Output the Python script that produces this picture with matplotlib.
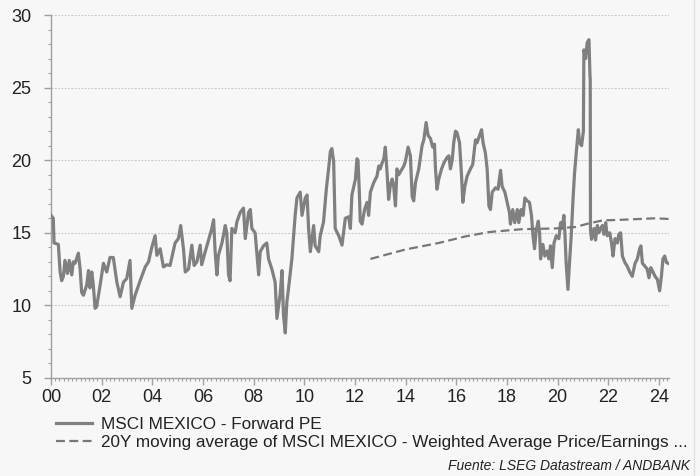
import matplotlib
matplotlib.use("Agg")
import matplotlib.pyplot as plt
from matplotlib.ticker import MultipleLocator, FixedLocator
from matplotlib.lines import Line2D

plt.rcParams['font.family'] = ['Liberation Sans', 'DejaVu Sans']

# ---- data (decimal years since 2000) ----
pe_years = [0.00, 0.09, 0.12, 0.29, 0.36, 0.42, 0.49, 0.55, 0.65, 0.72, 0.82, 0.88, 0.95,
            1.08, 1.15, 1.21, 1.28, 1.41, 1.48, 1.54, 1.61, 1.67, 1.74, 1.80, 1.94,
            2.07, 2.20, 2.33, 2.46, 2.60, 2.73, 2.86, 2.99, 3.12, 3.19, 3.32, 3.52,
            3.72, 3.85, 3.98, 4.11, 4.18, 4.31, 4.44, 4.57, 4.70, 4.90, 5.03, 5.12,
            5.23, 5.30, 5.43, 5.56, 5.65, 5.76, 5.89, 5.95, 6.09, 6.22, 6.35, 6.42,
            6.48, 6.55, 6.61, 6.75, 6.88, 6.94, 7.01, 7.07, 7.14, 7.27, 7.34, 7.47,
            7.60, 7.67, 7.80, 7.87, 7.93, 8.06, 8.20, 8.26, 8.39, 8.52, 8.59, 8.72,
            8.85, 8.92, 9.05, 9.12, 9.18, 9.25, 9.31, 9.38, 9.51, 9.64, 9.71, 9.84,
            9.91, 10.04, 10.11, 10.17, 10.24, 10.37, 10.43, 10.57, 10.63, 10.76, 10.87,
            10.96, 11.03, 11.09, 11.16, 11.22, 11.36, 11.49, 11.62, 11.75, 11.82, 11.88,
            12.02, 12.08, 12.12, 12.17, 12.21, 12.28, 12.38, 12.48, 12.54, 12.61, 12.74,
            12.87, 12.94, 13.00, 13.07, 13.14, 13.20, 13.27, 13.33, 13.40, 13.47, 13.53,
            13.60, 13.66, 13.73, 13.86, 13.93, 13.99, 14.10, 14.19, 14.26, 14.32, 14.39,
            14.52, 14.65, 14.72, 14.81, 14.89, 14.98, 15.07, 15.14, 15.18, 15.24, 15.31,
            15.42, 15.51, 15.64, 15.71, 15.77, 15.84, 15.90, 15.97, 16.03, 16.13, 16.21,
            16.26, 16.34, 16.43, 16.56, 16.65, 16.76, 16.82, 16.92, 17.00, 17.06, 17.15,
            17.22, 17.29, 17.35, 17.42, 17.55, 17.65, 17.75, 17.81, 17.92, 18.01, 18.10,
            18.14, 18.23, 18.31, 18.41, 18.47, 18.56, 18.64, 18.71, 18.80, 18.89, 18.97,
            19.03, 19.09, 19.16, 19.24, 19.29, 19.33, 19.42, 19.50, 19.59, 19.66, 19.72,
            19.79, 19.86, 19.95, 20.05, 20.12, 20.18, 20.25, 20.29, 20.34, 20.41, 20.47,
            20.54, 20.61, 20.67, 20.75, 20.82, 20.87, 20.95, 21.00, 21.02, 21.04, 21.11,
            21.17, 21.24, 21.28, 21.29, 21.30, 21.34, 21.44, 21.50, 21.57, 21.63, 21.70,
            21.77, 21.83, 21.90, 21.96, 22.06, 22.13, 22.19, 22.27, 22.36, 22.42, 22.49,
            22.56, 22.66, 22.75, 22.85, 22.95, 23.06, 23.15, 23.24, 23.29, 23.35, 23.45,
            23.54, 23.61, 23.68, 23.77, 23.85, 23.94, 24.03, 24.10, 24.16, 24.23, 24.30,
            24.36]
pe_values = [16.2, 16.0, 14.3, 14.2, 12.3, 11.7, 12.0, 13.1, 12.2, 13.1, 12.1, 13.0, 12.9,
             13.6, 12.5, 10.9, 10.7, 11.4, 12.4, 11.2, 12.3, 11.4, 9.8, 9.9, 11.4,
             12.9, 12.3, 13.3, 13.3, 11.6, 10.6, 11.6, 11.85, 13.1, 9.8, 10.7, 11.7,
             12.65, 13.0, 14.0, 14.8, 13.45, 13.9, 12.65, 12.8, 12.75, 14.3, 14.6, 15.5,
             13.9, 12.3, 12.5, 14.15, 12.75, 13.0, 14.15, 12.8, 13.7, 14.5, 15.3, 15.9,
             13.7, 12.1, 13.45, 14.3, 15.5, 15.0, 12.1, 11.7, 15.3, 15.0, 15.75, 16.4,
             16.7, 14.6, 16.4, 16.6, 15.3, 15.0, 12.1, 13.7, 14.1, 14.3, 13.2, 12.5,
             11.6, 9.1, 10.8, 12.4, 9.3, 8.1, 10.2, 11.2, 13.2, 16.2, 17.4, 17.8,
             16.2, 17.4, 17.6, 15.3, 13.7, 15.5, 14.1, 13.7, 14.8, 15.75, 18.0,
             19.4, 20.6, 20.8, 19.9, 15.3, 14.8, 14.15, 16.0, 16.1, 15.3, 17.6,
             18.7, 20.1, 20.0, 18.0, 15.8, 15.6, 16.6, 17.1, 16.2, 17.8, 18.45,
             18.9, 19.6, 19.4, 19.8, 20.1, 20.9, 19.1, 17.3, 18.3, 18.7, 18.2,
             16.85, 19.4, 19.0, 19.4, 19.6, 19.9, 20.9, 20.3, 17.5, 17.2, 18.45,
             19.4, 21.0, 21.4, 22.6, 21.7, 21.5, 20.9, 21.1, 19.4, 18.0, 18.7,
             19.4, 19.8, 20.2, 20.3, 19.4, 20.0, 21.2, 22.0, 21.9, 21.2, 18.9,
             17.1, 18.2, 18.9, 19.4, 19.7, 21.4, 21.2, 21.7, 22.1, 21.2, 20.5,
             19.4, 16.85, 16.6, 17.8, 18.1, 18.0, 19.3, 18.2, 17.8, 17.1, 16.4,
             15.6, 16.6, 15.7, 16.6, 15.7, 16.6, 16.2, 17.4, 17.2, 17.1, 16.2,
             14.8, 13.9, 15.2, 15.8, 15.0, 13.2, 14.2, 13.4, 13.75, 13.2, 14.1,
             12.6, 14.3, 14.8, 14.6, 15.7, 15.3, 16.2, 15.0, 12.9, 11.1, 12.9,
             14.8, 17.3, 19.1, 20.75, 22.1, 21.2, 21.0, 21.7, 22.0, 27.6, 27.0,
             28.1, 28.3, 25.8, 25.6, 15.2, 14.55, 15.3, 14.5, 15.5, 15.0, 15.3,
             15.5, 14.9, 15.7, 14.8, 15.0, 14.3, 13.4, 14.6, 14.3, 14.9, 15.0,
             13.4, 12.95, 12.7, 12.3, 12.0, 12.9, 13.2, 13.9, 14.1, 12.9, 12.7,
             12.5, 11.9, 12.6, 12.3, 12.0, 11.8, 11.0, 12.0, 13.2, 13.4, 12.95,
             12.9]

avg_years = [12.61, 13.99, 15.31, 16.36, 17.29, 18.60, 19.92, 20.71, 21.24, 21.77, 22.56, 23.87, 24.40]
avg_values = [13.2, 13.85, 14.3, 14.75, 15.05, 15.25, 15.3, 15.4, 15.65, 15.85, 15.9, 16.0, 15.95]

x_tick_years = list(range(0, 25, 2))
x_tick_labels = ['00', '02', '04', '06', '08', '10', '12', '14', '16', '18', '20', '22', '24']
y_ticks = [5, 10, 15, 20, 25, 30]

label_pe = 'MSCI MEXICO - Forward PE'
label_avg = '20Y moving average of MSCI MEXICO - Weighted Average Price/Earnings ...'
source = 'Fuente: LSEG Datastream / ANDBANK'

# ---- figure ----
W, H = 700, 476
bg = '#f7f7f7'
fig = plt.figure(figsize=(W / 100, H / 100), dpi=100, facecolor=bg)
ax = fig.add_axes([51 / W, 1 - 378 / H, 618 / W, 363 / H], facecolor=bg)

ln1, = ax.plot(pe_years, pe_values, color='#808080', lw=2.3, solid_joinstyle='round', zorder=3)
ln2, = ax.plot(avg_years, avg_values, color='#777777', lw=1.6, dashes=(4, 2), zorder=3)

ax.set_xlim(0, 24.4)
ax.set_ylim(5, 30)
ax.xaxis.set_major_locator(FixedLocator(x_tick_years))
ax.set_xticklabels(x_tick_labels)
ax.xaxis.set_minor_locator(MultipleLocator(1 / 6))
ax.yaxis.set_major_locator(FixedLocator(y_ticks))
ax.yaxis.set_minor_locator(MultipleLocator(1))

for s in ['top', 'right']:
    ax.spines[s].set_visible(False)
for s in ['left', 'bottom']:
    ax.spines[s].set_color('#a0a0a0')
    ax.spines[s].set_linewidth(1.0)

ax.tick_params(axis='both', which='major', length=5, width=1, color='#a0a0a0',
               labelsize=13, labelcolor='#222222')
ax.tick_params(axis='both', which='minor', length=2.5, width=0.8, color='#a0a0a0')
ax.tick_params(axis='y', which='major', pad=9)
ax.tick_params(axis='x', which='major', pad=3)
for lbl in ax.get_xticklabels():
    lbl.set_x(lbl.get_position()[0])

for yv in y_ticks[1:]:
    ax.axhline(yv, color='#c4c4c4', lw=0.8, ls=(0, (1.5, 1.5)), zorder=1)

leg = fig.legend([ln1, ln2], [label_pe, label_avg], loc='upper left',
                 bbox_to_anchor=(56 / W, 1 - 417 / H), frameon=False,
                 fontsize=12.3, handlelength=2.1, handletextpad=0.55,
                 labelspacing=0.15, borderpad=0, borderaxespad=0)
for t in leg.get_texts():
    t.set_color('#222222')

fig.text(690 / W, 1 - 466 / H, source, ha='right', va='center',
         fontsize=10, style='italic', color='#222222')

fig.add_artist(Line2D([693.5 / W, 693.5 / W], [0, 1], transform=fig.transFigure,
                      color='#e2e2e2', lw=1))

fig.savefig('out.png', dpi=100, facecolor=bg)
